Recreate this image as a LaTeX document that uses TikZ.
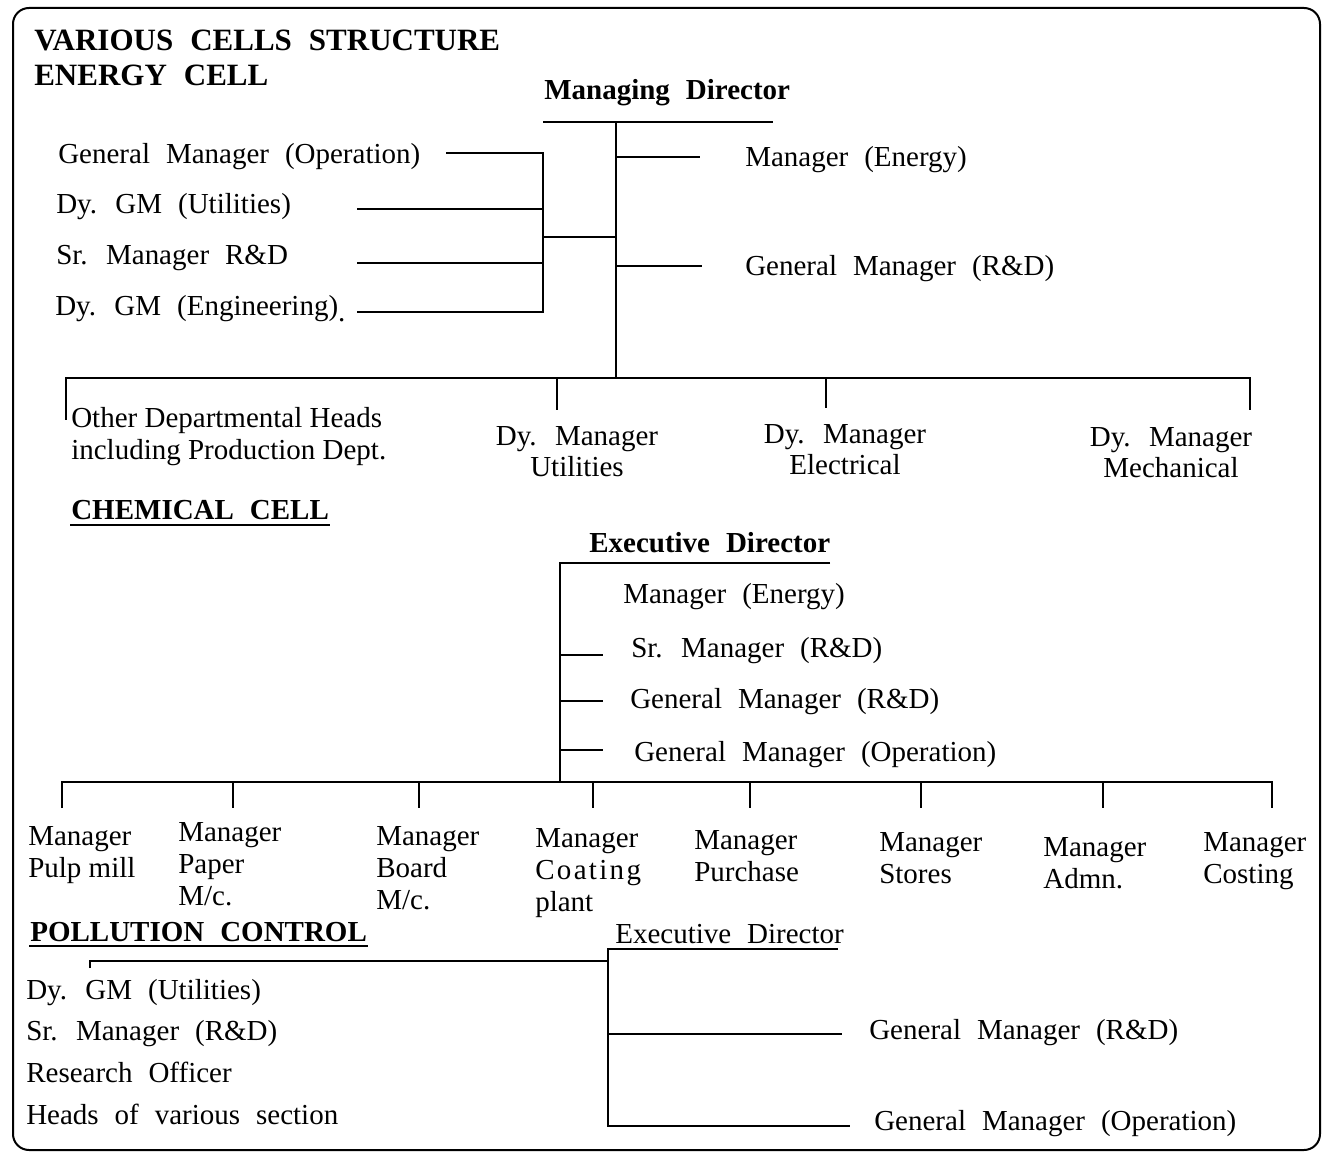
\documentclass[tikz,border=0pt]{standalone}
\usepackage{fontspec}
\setmainfont{Liberation Serif}[WordSpace=2.2,BoldFont={Liberation Serif Bold}]
\newfontfamily\narrowfont{Liberation Serif}
\usetikzlibrary{positioning}

\tikzset{
  lab/.style={anchor=base west,font=\fontsize{14.5}{16}\selectfont},
  bhead/.style={anchor=base west,font=\fontsize{14.5}{16}\selectfont\bfseries},
  pile/.style={anchor=north west,align=left,font=\fontsize{14.5}{16}\selectfont\narrowfont},
  cpile/.style={anchor=north,align=center,font=\fontsize{14.5}{15.5}\selectfont},
  frame/.style={line width=1pt,rounded corners=8pt},
}

\begin{document}
\begin{tikzpicture}[x=0.5pt,y=-0.5pt,every node/.style={inner sep=0pt},line width=1.3pt]
\useasboundingbox (0,0) rectangle (1328,1154);
\draw[frame] (13,8) rectangle (1320,1150);

\node[bhead,font=\fontsize{15.5}{18}\selectfont\bfseries] (title) at (33,51) {VARIOUS CELLS STRUCTURE};
\node[bhead,font=\fontsize{15.5}{18}\selectfont\bfseries] (energy) at (33,86) {ENERGY CELL};
\node[bhead] (md) at (543,100) {Managing Director};
\node[lab] (gmop) at (57,164) {General Manager (Operation)}; \node[lab] (dygmu) at (55,214) {Dy. GM (Utilities)};
\node[lab] (srmrd) at (55,265) {Sr. Manager R\&D}; \node[lab] (dygme) at (54,316) {Dy. GM (Engineering)\raisebox{-3pt}{.}};
\node[lab] (mgren) at (744,167) {Manager (Energy)}; \node[lab] (gmrd) at (744,276) {General Manager (R\&D)};
\node[pile] (odh) at (70,406) {Other Departmental Heads\\including Production Dept.};
\node[cpile] (dmu) at (577,425) {Dy. Manager\\Utilities}; \node[cpile] (dme) at (845,423) {Dy. Manager\\Electrical};
\node[cpile] (dmm) at (1171,426) {Dy. Manager\\Mechanical};

\coordinate (mdL) at (543,122); \coordinate (mdR) at (773,122); \coordinate (tB) at (616,378);
\coordinate (tT) at (616,122); \coordinate (tE) at (616,157); \coordinate (tEe) at (700,157);
\coordinate (tR) at (616,266); \coordinate (tRe) at (702,266); \coordinate (tL) at (616,237); \coordinate (bM) at (543,237);
\coordinate (b1) at (543,153); \coordinate (b2) at (543,209); \coordinate (b3) at (543,263); \coordinate (b4) at (543,312);
\coordinate (s1) at (446,153); \coordinate (s2) at (357,209); \coordinate (s3) at (357,263); \coordinate (s4) at (357,312);
\coordinate (busL) at (66,378); \coordinate (busR) at (1250,378); \coordinate (d1) at (66,420); \coordinate (d4) at (1250,410);
\coordinate (d2t) at (557,378); \coordinate (d2) at (557,410); \coordinate (d3t) at (826,378); \coordinate (d3) at (826,408);
\path (mdL) edge (mdR); \path (tT) edge (tB); \path (tE) edge (tEe); \path (tR) edge (tRe); \path (tL) edge (bM);
\draw (s1) -- (b1) -- (b4) -- (s4); \path (s2) edge (b2); \path (s3) edge (b3);
\draw (d1) -- (busL) -- (busR) -- (d4); \path (d2t) edge (d2); \path (d3t) edge (d3);

\node[bhead] (chem) at (70,520) {CHEMICAL CELL};
\draw ([yshift=-2.5pt]chem.base west) -- ([yshift=-2.5pt]chem.base east);
\node[bhead] (ed) at (588,553) {Executive Director};
\node[lab] (mgren2) at (622,604) {Manager (Energy)}; \node[lab] (srmrd2) at (630,658) {Sr. Manager (R\&D)};
\node[lab] (gmrd2) at (629,708) {General Manager (R\&D)}; \node[lab] (gmop2) at (633,761) {General Manager (Operation)};
\node[pile] (pulp) at (27,825) {Manager\\Pulp mill}; \node[pile] (paper) at (177,821) {Manager\\Paper\\M/c.};
\node[pile] (board) at (375,825) {Manager\\Board\\M/c.};
\node[pile] (coat) at (534,827) {Manager\\{\addfontfeature{LetterSpace=8}Coating}\\plant};
\node[pile] (purch) at (693,829) {Manager\\Purchase}; \node[pile] (stores) at (878,831) {Manager\\Stores};
\node[pile] (admn) at (1042,836) {Manager\\Admn.}; \node[pile] (cost) at (1202,831) {Manager\\Costing};

\coordinate (edR) at (830,563); \coordinate (edL) at (560,563); \coordinate (eB) at (560,782);
\coordinate (e2) at (560,655); \coordinate (e2e) at (603,655); \coordinate (e3) at (560,701); \coordinate (e3e) at (603,701);
\coordinate (e4) at (560,750); \coordinate (e4e) at (603,750);
\draw (edR) -- (edL) -- (eB); \path (e2) edge (e2e); \path (e3) edge (e3e); \path (e4) edge (e4e);
\coordinate (cbL) at (62,782); \coordinate (cbR) at (1272,782);
\draw (62,808) -- (cbL) -- (cbR) -- (1272,808);
\foreach \n/\x in {paper/233,board/419,coat/593,purch/750,stores/921,admn/1103}
  {\coordinate (\n top) at (\x,782); \coordinate (\n bot) at (\x,808); \path (\n top) edge (\n bot);}

\node[bhead] (poll) at (29,941) {POLLUTION CONTROL};
\draw ([yshift=-2.5pt]poll.base west) -- ([yshift=-2.5pt]poll.base east);
\node[lab] (ed3) at (614,943) {Executive Director};
\node[lab] (pdygm) at (25,999) {Dy. GM (Utilities)}; \node[lab] (psrm) at (25,1040) {Sr. Manager (R\&D)};
\node[lab] (pro) at (25,1082) {Research Officer}; \node[lab] (phead) at (25,1124) {Heads of various section};
\node[lab] (gmrd3) at (868,1039) {General Manager (R\&D)}; \node[lab] (gmop3) at (873,1130) {General Manager (Operation)};

\coordinate (pedR) at (838,949); \coordinate (pedL) at (608,949); \coordinate (pB) at (608,1126); \coordinate (pBe) at (850,1126);
\coordinate (pM) at (608,1034); \coordinate (pMe) at (842,1034); \coordinate (pJ) at (608,961);
\coordinate (pK) at (90,961); \coordinate (pKt) at (90,968);
\draw (pedR) -- (pedL) -- (pB) -- (pBe); \path (pM) edge (pMe); \draw (pKt) -- (pK) -- (pJ);
\end{tikzpicture}
\end{document}
